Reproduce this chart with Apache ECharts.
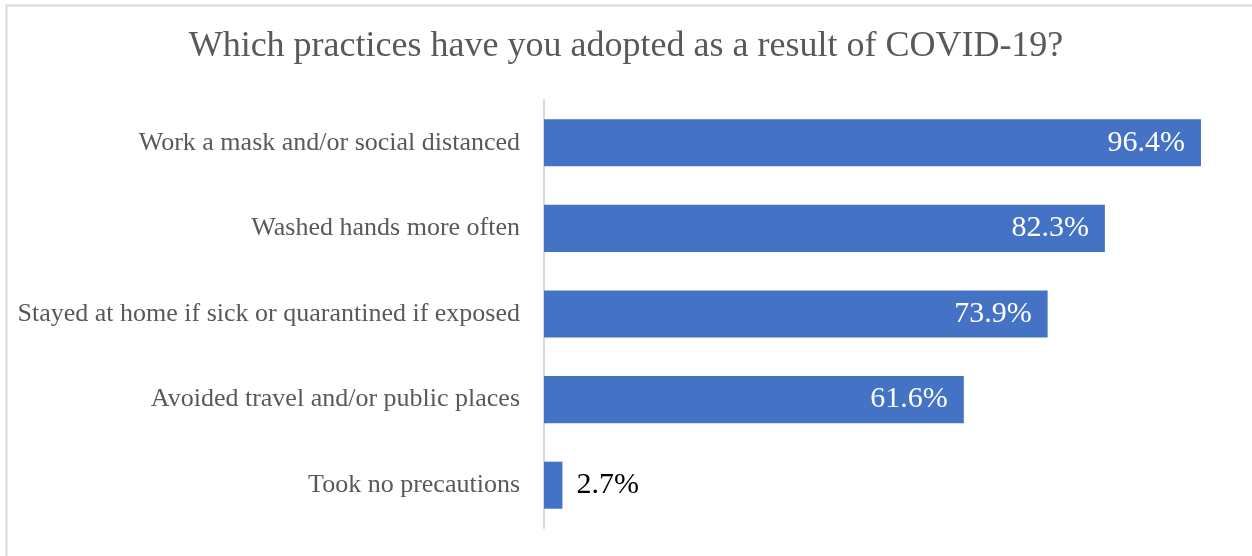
<!DOCTYPE html>
<html>
<head>
<meta charset="utf-8">
<script src="https://cdn.jsdelivr.net/npm/echarts@6/dist/echarts.min.js"></script>
<style>
  html, body { margin: 0; padding: 0; background: #fff; }
  #chart { width: 1252px; height: 556px; }
</style>
</head>
<body>
<div id="chart"></div>
<script>
// Survey answers, top to bottom
const categories = [
  'Work a mask and/or social distanced',
  'Washed hands more often',
  'Stayed at home if sick or quarantined if exposed',
  'Avoided travel and/or public places',
  'Took no precautions'
];
const percentValues = [96.4, 82.3, 73.9, 61.6, 2.7];
const chartTitle = 'Which practices have you adopted as a result of COVID-19?';

const serif = '"Liberation Serif", "DejaVu Serif", serif';

const chart = echarts.init(document.getElementById('chart'), null, { renderer: 'canvas' });

const barData = percentValues.map(function (v) {
  const small = v < 10;
  return {
    value: v,
    label: small
      ? { position: 'right', distance: 14, color: '#000000' }
      : { position: 'insideRight', distance: 16, color: '#ffffff' }
  };
});

chart.setOption({
  animation: false,
  backgroundColor: '#ffffff',
  title: {
    text: chartTitle,
    left: 'center',
    top: 24,
    textStyle: { fontFamily: serif, fontSize: 36, fontWeight: 'normal', color: '#595959' }
  },
  graphic: [{
    type: 'rect',
    shape: { x: 6.5, y: 5.5, width: 1400, height: 700 },
    style: { fill: 'none', stroke: '#d9d9d9', lineWidth: 2 },
    silent: true
  }],
  grid: { left: 544, right: 26.5, top: 100, bottom: 28, containLabel: false },
  xAxis: {
    type: 'value',
    min: 0,
    max: 100,
    show: false
  },
  yAxis: {
    type: 'category',
    data: categories,
    inverse: true,
    axisLine: { show: true, lineStyle: { color: '#d9d9d9', width: 2 } },
    axisTick: { show: false },
    axisLabel: { fontFamily: serif, fontSize: 26, color: '#595959', margin: 24 }
  },
  series: [{
    type: 'bar',
    data: barData,
    barCategoryGap: '45%',
    itemStyle: { color: '#4472C4' },
    label: {
      show: true,
      fontFamily: serif,
      fontSize: 30,
      formatter: function (p) { return p.value.toFixed(1) + '%'; }
    }
  }]
});
</script>
</body>
</html>
